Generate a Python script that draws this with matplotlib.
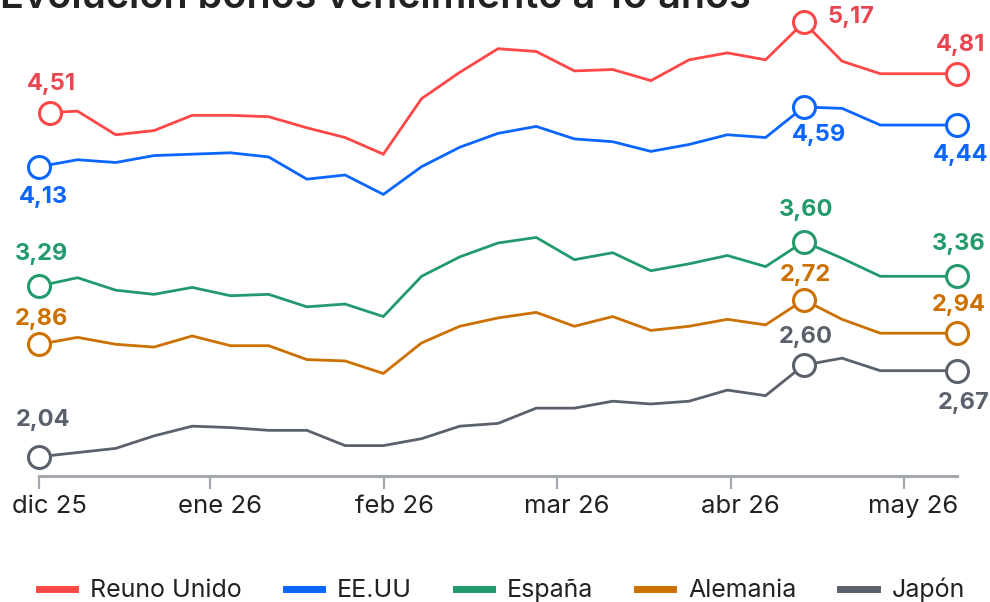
import matplotlib
matplotlib.use("Agg")
import matplotlib.pyplot as plt
import matplotlib.transforms as mtransforms

plt.rcParams['font.family'] = ['Inter', 'DejaVu Sans']

# semanas (posiciones equiespaciadas en el eje), la semana 23 no tiene dato
semanas = [0, 1, 2, 3, 4, 5, 6, 7, 8, 9, 10, 11, 12, 13, 14, 15, 16, 17, 18, 19, 20, 21, 22, 24]
semanas_uk = [0.28] + semanas[1:]

reino_unido = [4.52, 4.53, 4.36, 4.39, 4.50, 4.50, 4.49, 4.41, 4.34, 4.22, 4.62, 4.81,
               4.98, 4.96, 4.82, 4.83, 4.75, 4.90, 4.95, 4.90, 5.17, 4.89, 4.80, 4.80]
eeuu = [4.13, 4.18, 4.16, 4.21, 4.22, 4.23, 4.20, 4.04, 4.07, 3.93, 4.13, 4.27,
        4.37, 4.42, 4.33, 4.31, 4.24, 4.29, 4.36, 4.34, 4.56, 4.55, 4.43, 4.43]
espana = [3.27, 3.33, 3.24, 3.21, 3.26, 3.20, 3.21, 3.12, 3.14, 3.05, 3.34, 3.48,
          3.58, 3.62, 3.46, 3.51, 3.38, 3.43, 3.49, 3.41, 3.59, 3.47, 3.34, 3.34]
alemania = [2.85, 2.90, 2.85, 2.83, 2.91, 2.84, 2.84, 2.74, 2.73, 2.64, 2.86, 2.98,
            3.04, 3.08, 2.98, 3.05, 2.95, 2.98, 3.03, 2.99, 3.17, 3.03, 2.93, 2.93]
japon = [2.04, 2.07, 2.10, 2.19, 2.26, 2.25, 2.23, 2.23, 2.12, 2.12, 2.17, 2.26,
         2.28, 2.39, 2.39, 2.44, 2.42, 2.44, 2.52, 2.48, 2.70, 2.75, 2.66, 2.66]

nombres = ["Reuno Unido", "EE.UU", "España", "Alemania", "Japón"]
etiquetas = [["4,51", "5,17", "4,81"],
             ["4,13", "4,59", "4,44"],
             ["3,29", "3,60", "3,36"],
             ["2,86", "2,72", "2,94"],
             ["2,04", "2,60", "2,67"]]

meses = ["dic 25", "ene 26", "feb 26", "mar 26", "abr 26", "may 26"]
pos_meses = [0.0, 4.47, 9.02, 13.54, 18.09, 22.61]

colores = ["#ff4747", "#0a66ff", "#239a6b", "#cc7000", "#5a616c"]
colores_txt = ["#ea4652", "#0a66ff", "#239a6b", "#cc7000", "#5a616c"]

# desplazamientos de las etiquetas (px) para inicio, pico y final
offsets = [[(1, 29), (47, 5), (4, 29)],
           [(4, -30), (15, -28), (4, -30)],
           [(2, 32), (2, 32), (2, 32)],
           [(2, 25), (2, 25), (2, 28)],
           [(4, 37), (2, 28), (7, -32)]]

series = [reino_unido, eeuu, espana, alemania, japon]
xs = [semanas_uk, semanas, semanas, semanas, semanas]

fig = plt.figure(figsize=(9.9, 6.02), dpi=100)
ax = fig.add_axes([39.3 / 990, 126 / 602, 917.4 / 990, 476 / 602])

for i in range(5):
    x = xs[i]
    y = series[i]
    ax.plot(x, y, color=colores[i], lw=2.0, zorder=2, label=nombres[i], clip_on=False,
            solid_joinstyle='miter')
    puntos = [0, 20, len(x) - 1]
    ax.scatter([x[p] for p in puntos], [y[p] for p in puntos], s=250, facecolor='white',
               edgecolor=colores[i], linewidth=2.2, zorder=3, clip_on=False)
    for k, p in enumerate(puntos):
        dx, dy = offsets[i][k]
        ax.annotate(etiquetas[i][k], (x[p], y[p]), xytext=(dx, dy), textcoords='offset pixels',
                    ha='center', va='center', fontsize=17, fontweight='bold',
                    color=colores_txt[i], zorder=4)

ax.set_xlim(0, 24)
ax.set_ylim(1.901, 5.331)
for s in ['top', 'right', 'left']:
    ax.spines[s].set_visible(False)
ax.spines['bottom'].set_color('#a3a8ae')
ax.spines['bottom'].set_linewidth(2.2)
ax.set_yticks([])
ax.set_xticks(pos_meses)
ax.set_xticklabels(meses, fontsize=18.5, color='#222222')
ax.tick_params(axis='x', length=9, width=1.6, color='#a3a8ae', pad=5)
desplaza = mtransforms.ScaledTranslation(10 / 100, 0, fig.dpi_scale_trans)
for lbl in ax.get_xticklabels():
    lbl.set_transform(lbl.get_transform() + desplaza)

fig.text(0.0, 1 - 8 / 602, "Evolución bonos vencimiento a 10 años", fontsize=28.5,
         fontweight='semibold', color='#222222', va='baseline', ha='left')

leg = fig.legend(loc='center', bbox_to_anchor=(0.507, 1 - 590 / 602), ncol=5, frameon=False,
                 fontsize=18, handlelength=1.45, handletextpad=0.6, columnspacing=1.75)
for h in leg.get_lines():
    h.set_linewidth(5)
for t in leg.get_texts():
    t.set_color('#222222')

fig.savefig("out.png", dpi=100)
